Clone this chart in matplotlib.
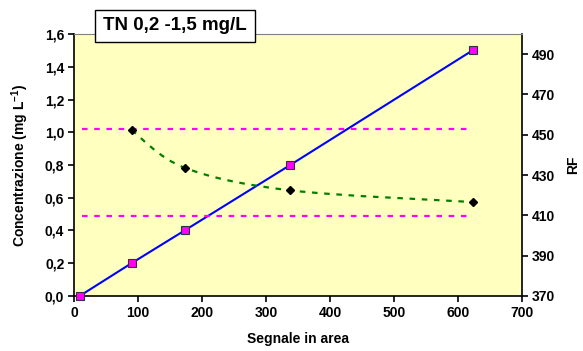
import matplotlib
matplotlib.use("Agg")
import matplotlib.pyplot as plt
from matplotlib.path import Path
from matplotlib.patches import PathPatch

plt.rcParams['font.family'] = ['Liberation Sans', 'DejaVu Sans']
plt.rcParams['font.weight'] = 'bold'
plt.rcParams['mathtext.fontset'] = 'custom'
plt.rcParams['mathtext.bf'] = 'Liberation Sans:bold'
plt.rcParams['mathtext.rm'] = 'Liberation Sans:bold'

signal = [9, 90, 173, 338, 623]
conc = [0.0, 0.2, 0.4, 0.8, 1.5]
rf_x = [90, 173, 338, 623]
rf = [452.3, 433.6, 422.4, 416.6]
limit_x = [12, 623]
rf_upper = 453.0
rf_lower = 409.8

fig = plt.figure(figsize=(5.83, 3.51), dpi=100)
ax = fig.add_axes([0.127, 0.157, 0.768, 0.746])
ax.set_facecolor('#FFFFC0')
ax.set_xlim(0, 700)
ax.set_ylim(0, 1.6)
ax.set_xticks(range(0, 701, 100))
ax.set_yticks([0, 0.2, 0.4, 0.6, 0.8, 1.0, 1.2, 1.4, 1.6])
ax.set_yticklabels([f"{v:.1f}".replace('.', ',') for v in ax.get_yticks()])
for s in ['left', 'bottom']:
    ax.spines[s].set_color('black')
    ax.spines[s].set_linewidth(1.2)
ax.spines['top'].set_color('#808080')
ax.spines['right'].set_color('black')
ax.spines['right'].set_linewidth(1.2)
ax.tick_params(direction='out', length=4, width=1.2, labelsize=10, pad=3)

ax2 = ax.twinx()
ax2.set_ylim(370, 500)
ax2.set_yticks(range(370, 491, 20))
ax2.tick_params(direction='out', length=4, width=1.2, labelsize=10, pad=3)
for s in ax2.spines.values():
    s.set_visible(False)

# limit lines
ax2.plot(limit_x, [rf_upper, rf_upper], color='#FF00FF', lw=1.6, ls=(0, (2.5, 3)))
ax2.plot(limit_x, [rf_lower, rf_lower], color='#FF00FF', lw=1.6, ls=(0, (2.5, 3)))

# smoothed RF curve (Catmull-Rom style Bezier through points)
pts = list(zip(rf_x, rf))
verts = [pts[0]]
codes = [Path.MOVETO]
n = len(pts)
for i in range(n - 1):
    p0 = pts[i - 1] if i > 0 else pts[i]
    p1 = pts[i]
    p2 = pts[i + 1]
    p3 = pts[i + 2] if i + 2 < n else pts[i + 1]
    c1 = (p1[0] + (p2[0] - p0[0]) / 6, p1[1] + (p2[1] - p0[1]) / 6)
    c2 = (p2[0] - (p3[0] - p1[0]) / 6, p2[1] - (p3[1] - p1[1]) / 6)
    verts += [c1, c2, p2]
    codes += [Path.CURVE4] * 3
patch = PathPatch(Path(verts, codes), facecolor='none', edgecolor='#008000',
                  lw=1.6, ls=(0, (2.5, 3)))
ax2.add_patch(patch)
ax2.plot(rf_x, rf, ls='none', marker='D', ms=4.5, color='black')

ax.plot(signal, conc, color='#0000FF', lw=1.5, zorder=3)
ax.plot(signal, conc, ls='none', marker='s', ms=5.5, mfc='#FF00FF', mec='#333333',
        mew=0.8, zorder=4, clip_on=False)

ax.set_xlabel('Segnale in area', fontsize=10, fontweight='bold', labelpad=9)
ax.set_ylabel('Concentrazione (mg L$^{\\mathbf{-1}}$)', fontsize=10, fontweight='bold', labelpad=10)
ax2.set_ylabel('RF', fontsize=10, fontweight='bold', labelpad=8)

fig.text(0.300, 0.926, 'TN 0,2 -1,5 mg/L', fontsize=13.5, fontweight='bold',
         ha='center', va='center',
         bbox=dict(boxstyle='square,pad=0.42', fc='white', ec='black', lw=1))

fig.savefig('out.png', dpi=100)
